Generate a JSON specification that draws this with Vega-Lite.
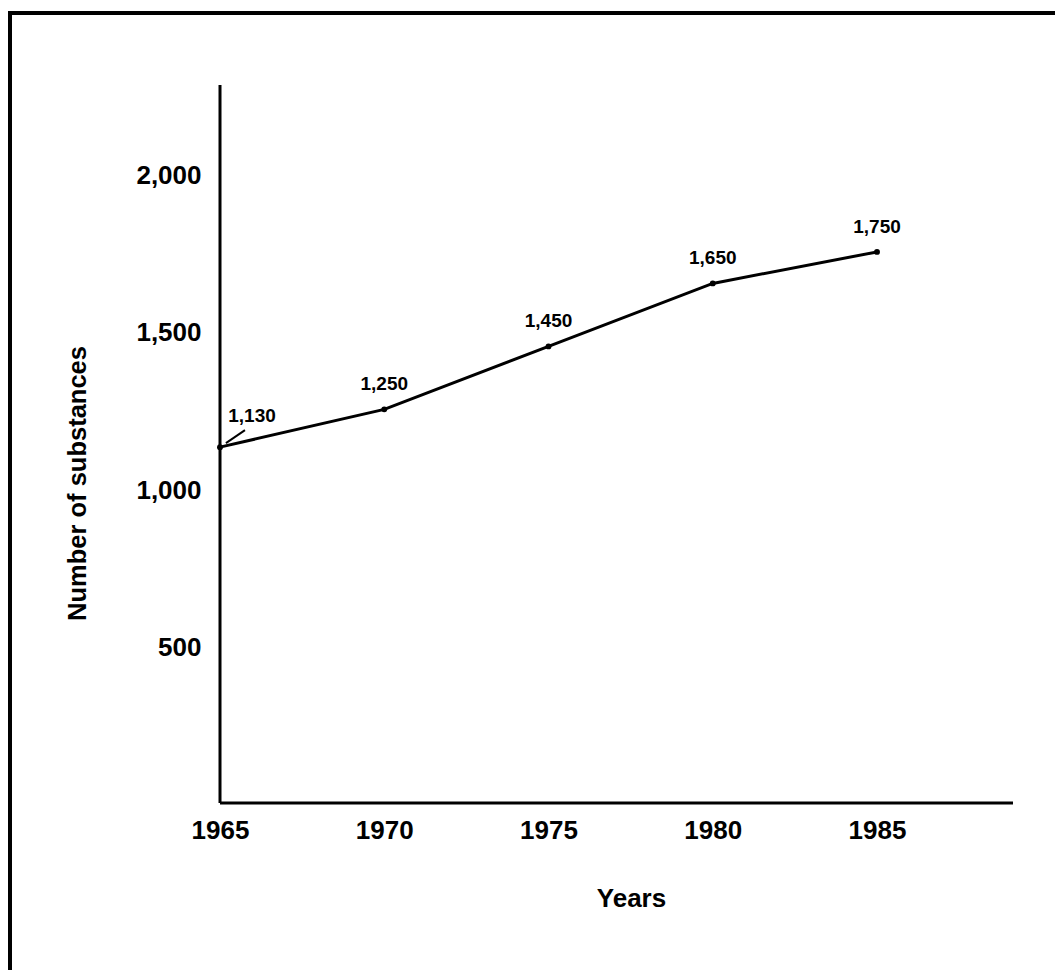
{
  "$schema": "https://vega.github.io/schema/vega-lite/v6.json",
  "autosize": {"type": "none"},
  "padding": {"left": 10, "top": 13, "right": 0, "bottom": 0},
  "width": 1100,
  "height": 1000,
  "background": "white",
  "config": {
    "view": {"stroke": "black", "strokeWidth": 4},
    "font": "Liberation Sans"
  },
  "data": {
    "values": [
      {"year": 1965, "substances": 1130, "label": "1,130"},
      {"year": 1970, "substances": 1250, "label": "1,250"},
      {"year": 1975, "substances": 1450, "label": "1,450"},
      {"year": 1980, "substances": 1650, "label": "1,650"},
      {"year": 1985, "substances": 1750, "label": "1,750"}
    ]
  },
  "encoding": {
    "x": {
      "field": "year",
      "type": "quantitative",
      "scale": {"domain": [1958.607, 1992.093], "nice": false, "zero": false},
      "axis": {
        "title": "Years",
        "values": [1965, 1970, 1975, 1980, 1985],
        "format": "d",
        "offset": -210,
        "domain": false,
        "ticks": false,
        "grid": false,
        "labelFontSize": 26,
        "labelFontWeight": "bold",
        "labelColor": "black",
        "labelPadding": 14,
        "titleFontSize": 26,
        "titleFontWeight": "bold",
        "titleColor": "black",
        "titleX": 621,
        "titleY": 95,
        "titleBaseline": "middle",
        "titleAlign": "center"
      }
    },
    "y": {
      "field": "substances",
      "type": "quantitative",
      "scale": {"domain": [-666.9, 2508.7], "nice": false, "zero": false},
      "axis": {
        "title": "Number of substances",
        "values": [500, 1000, 1500, 2000],
        "format": ",d",
        "offset": -210,
        "domain": false,
        "ticks": false,
        "grid": false,
        "labelFontSize": 26,
        "labelFontWeight": "bold",
        "labelColor": "black",
        "labelPadding": 19,
        "labelOffset": 2,
        "titleFontSize": 25.5,
        "titleFontWeight": "bold",
        "titleColor": "black",
        "titleX": -143,
        "titleY": 470,
        "titleAngle": 270,
        "titleBaseline": "middle",
        "titleAlign": "center"
      }
    }
  },
  "layer": [
    {
      "data": {"values": [{"x1": 1965, "y1": 0, "x2": 1989.14, "y2": 0}, {"x1": 1965, "y1": 0, "x2": 1965, "y2": 2280}]},
      "mark": {"type": "rule", "strokeWidth": 3, "color": "black"},
      "encoding": {
        "x": {"field": "x1", "type": "quantitative"},
        "y": {"field": "y1", "type": "quantitative"},
        "x2": {"field": "x2"},
        "y2": {"field": "y2"}
      }
    },
    {
      "mark": {"type": "line", "strokeWidth": 3, "color": "black"}
    },
    {
      "mark": {"type": "point", "filled": true, "size": 35, "color": "black", "opacity": 1}
    },
    {
      "transform": [{"filter": "datum.year > 1965"}],
      "mark": {"type": "text", "dy": -25, "fontSize": 19, "fontWeight": "bold", "color": "black", "baseline": "middle", "align": "center"},
      "encoding": {"text": {"field": "label"}}
    },
    {
      "transform": [{"filter": "datum.year == 1965"}],
      "mark": {"type": "text", "dx": 32, "dy": -31, "fontSize": 19, "fontWeight": "bold", "color": "black", "baseline": "middle", "align": "center"},
      "encoding": {"text": {"field": "label"}}
    },
    {
      "data": {"values": [{"x1": 1965.18, "y1": 1143, "x2": 1965.76, "y2": 1184}]},
      "mark": {"type": "rule", "strokeWidth": 2, "color": "black"},
      "encoding": {
        "x": {"field": "x1", "type": "quantitative"},
        "y": {"field": "y1", "type": "quantitative"},
        "x2": {"field": "x2"},
        "y2": {"field": "y2"}
      }
    }
  ]
}
